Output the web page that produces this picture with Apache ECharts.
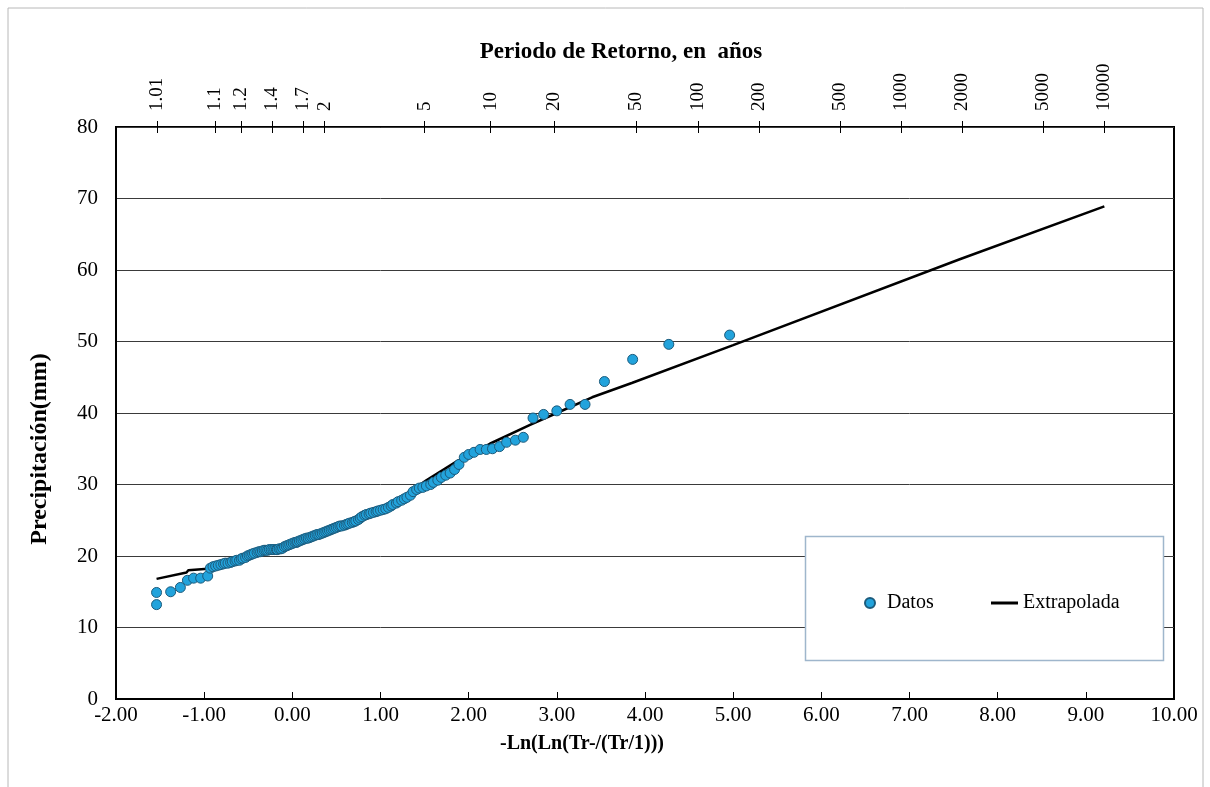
<!DOCTYPE html>
<html>
<head>
<meta charset="utf-8">
<script src="https://cdn.jsdelivr.net/npm/echarts@6/dist/echarts.min.js"></script>
<style>
html,body{margin:0;padding:0;background:#fff;}
#chart{width:1210px;height:787px;}
</style>
</head>
<body>
<div id="chart"></div>
<script>
// ---- Data ----
const datosX = [-1.54,-1.54,-1.38,-1.27,-1.19,-1.12,-1.04,-0.96,-0.93,-0.90,-0.87,
-0.84,-0.81,-0.78,-0.76,-0.73,-0.70,-0.68,-0.65,-0.63,-0.60,-0.58,-0.56,-0.53,-0.51,-0.49,-0.47,-0.45,-0.43,-0.40,-0.38,
-0.36,-0.34,-0.32,-0.30,-0.28,-0.26,-0.24,-0.22,-0.20,-0.18,-0.17,-0.15,-0.13,-0.11,-0.09,-0.07,-0.05,-0.03,-0.01,
0.01,0.03,0.05,0.06,0.08,0.10,0.12,0.14,0.16,0.18,0.20,0.22,0.24,0.26,0.28,0.30,0.32,0.34,0.36,0.38,0.40,0.42,0.44,
0.46,0.48,0.50,0.52,0.54,0.56,0.59,0.61,0.63,0.65,0.68,0.70,0.72,0.75,0.77,0.79,0.82,0.84,0.87,0.89,0.92,0.95,0.97,
1.00,1.03,1.06,1.09,1.12,1.14,1.18,1.20,1.24,1.27,1.30,1.34,1.37,1.41,1.44,1.48,1.52,1.57,1.60,1.65,1.69,1.74,1.79,
1.84,1.89,1.95,2.00,2.06,2.13,2.20,2.27,2.35,2.43,2.53,2.62,2.73,2.85,3.00,3.15,3.32,3.54,3.86,4.27,4.96];
const datosY = [13.2,14.9,15.0,15.6,16.6,16.9,16.9,17.2,18.3,18.5,18.6,
18.7,18.8,18.9,19.0,19.0,19.1,19.2,19.3,19.4,19.4,19.6,19.7,19.8,20.0,20.1,20.2,20.3,20.4,20.5,20.6,
20.6,20.7,20.8,20.8,20.8,20.9,20.9,20.9,20.9,20.9,20.9,21.0,21.0,21.1,21.3,21.4,21.5,21.6,21.7,
21.8,21.9,21.9,22.0,22.1,22.2,22.3,22.4,22.5,22.5,22.6,22.7,22.8,22.9,23.0,23.0,23.1,23.2,23.3,23.4,23.5,23.6,23.7,
23.8,23.9,24.0,24.1,24.2,24.2,24.3,24.4,24.5,24.6,24.7,24.8,24.9,25.1,25.3,25.5,25.7,25.8,25.9,26.0,26.1,26.2,26.3,
26.4,26.5,26.6,26.8,27.0,27.2,27.4,27.6,27.8,28.0,28.2,28.5,29.0,29.3,29.5,29.6,29.8,30.0,30.3,30.6,31.0,31.3,31.6,
32.1,32.8,33.8,34.2,34.5,34.9,34.9,35.0,35.3,35.9,36.2,36.6,39.3,39.8,40.3,41.2,41.2,44.4,47.5,49.6,50.9];

const lineX = [-1.54,-1.20,-1.18,-0.96,-0.80,-0.50,-0.20,0.00,0.30,0.60,0.90,1.20,1.37,1.52,1.86,2.24,2.69,3.00,3.40,3.85,5.00,7.57,9.21];
const lineY = [16.8,17.7,18.0,18.2,18.7,19.9,20.8,21.4,22.8,24.0,25.5,27.3,29.3,30.6,33.2,35.7,38.3,40.0,42.2,44.2,49.5,61.5,68.9];

// Return-period tick labels (top axis), placed at -ln(-ln(1-1/T))
const periodLabels = ['1.01','1.1','1.2','1.4','1.7','2','5','10','20','50','100','200','500','1000','2000','5000','10000'];
const periodPos = periodLabels.map(t => { const T = parseFloat(t); return -Math.log(-Math.log(1 - 1 / T)); });

const xTicks = [-2,-1,0,1,2,3,4,5,6,7,8,9,10];
const yTicks = [0,10,20,30,40,50,60,70,80];

const SERIF = '"Liberation Serif","Times New Roman",serif';

const chart = echarts.init(document.getElementById('chart'), null, {renderer: 'canvas'});

function periodFormatter(v) {
  let best = 0, d = Infinity;
  periodPos.forEach((p, i) => { const dd = Math.abs(p - v); if (dd < d) { d = dd; best = i; } });
  return periodLabels[best];
}

const option = {
  backgroundColor: '#fff',
  animation: false,
  grid: {left: 116, right: 36, top: 127, bottom: 88, show: true, borderColor: '#000', borderWidth: 2, backgroundColor: 'transparent'},
  legend: [
    {data: ['Datos'], left: 859, top: 588, itemWidth: 24, itemHeight: 10, icon: 'circle', z: 100,
     textStyle: {fontFamily: SERIF, fontSize: 20, color: '#000'}},
    {data: ['Extrapolada'], left: 986, top: 588, itemWidth: 27, itemHeight: 3, icon: 'rect', itemGap: 0, z: 100,
     itemStyle: {color: '#000', borderWidth: 0},
     textStyle: {fontFamily: SERIF, fontSize: 20, color: '#000'}}
  ],
  xAxis: [
    {type: 'value', position: 'bottom', min: xTicks[0], max: xTicks[xTicks.length - 1], interval: 1,
     axisLine: {show: true, onZero: false, lineStyle: {color: '#000', width: 2}},
     axisTick: {show: true, inside: true, length: 7, lineStyle: {color: '#000', width: 1}},
     axisLabel: {color: '#000', fontFamily: SERIF, fontSize: 21, margin: 6, formatter: v => v.toFixed(2)},
     splitLine: {show: false}},
    {type: 'value', position: 'top', offset: -6, min: xTicks[0], max: xTicks[xTicks.length - 1],
     axisLine: {show: false, onZero: false},
     axisTick: {show: true, inside: false, length: 12, customValues: periodPos, lineStyle: {color: '#000', width: 1}},
     axisLabel: {show: true, customValues: periodPos, rotate: -90, margin: 22, color: '#000', fontFamily: SERIF, fontSize: 19, formatter: periodFormatter},
     splitLine: {show: false}}
  ],
  yAxis: [
    {type: 'value', min: yTicks[0], max: yTicks[yTicks.length - 1], interval: 10,
     axisLine: {show: true, onZero: false, lineStyle: {color: '#000', width: 2}},
     axisTick: {show: false},
     axisLabel: {color: '#000', fontFamily: SERIF, fontSize: 21, margin: 18},
     splitLine: {show: true, lineStyle: {color: '#3a3a3a', width: 1}}}
  ],
  graphic: [
    {type: 'rect', z: 50, shape: {x: 8, y: 8, width: 1195, height: 800},
     style: {fill: 'none', stroke: '#b8b8b8', lineWidth: 1}},
    {type: 'rect', z: 50, shape: {x: 805.5, y: 536.5, width: 358, height: 124},
     style: {fill: '#fff', stroke: '#9fb6cc', lineWidth: 1.5}},
    {type: 'text', z: 50, x: 621, y: 52,
     style: {text: 'Periodo de Retorno, en  años', font: 'bold 23px ' + SERIF, fill: '#000', textAlign: 'center', textVerticalAlign: 'middle'}},
    {type: 'text', z: 50, x: 582, y: 744,
     style: {text: '-Ln(Ln(Tr-/(Tr/1)))', font: 'bold 20px ' + SERIF, fill: '#000', textAlign: 'center', textVerticalAlign: 'middle'}},
    {type: 'text', z: 50, x: 40, y: 449, rotation: Math.PI / 2,
     style: {text: 'Precipitación(mm)', font: 'bold 24px ' + SERIF, fill: '#000', textAlign: 'center', textVerticalAlign: 'middle'}}
  ],
  series: [
    {name: 'Extrapolada', type: 'line', xAxisIndex: 0, yAxisIndex: 0, z: 2,
     data: lineX.map((x, i) => [x, lineY[i]]),
     showSymbol: false, symbol: 'none',
     lineStyle: {color: '#000', width: 2.5}, itemStyle: {color: '#000'}},
    {name: 'Datos', type: 'scatter', xAxisIndex: 0, yAxisIndex: 0, z: 3,
     data: datosX.map((x, i) => [x, datosY[i]]),
     symbol: 'circle', symbolSize: 10,
     itemStyle: {color: '#22A3DC', borderColor: '#1c5b7c', borderWidth: 1, opacity: 1}}
  ]
};
chart.setOption(option);
</script>
</body>
</html>
